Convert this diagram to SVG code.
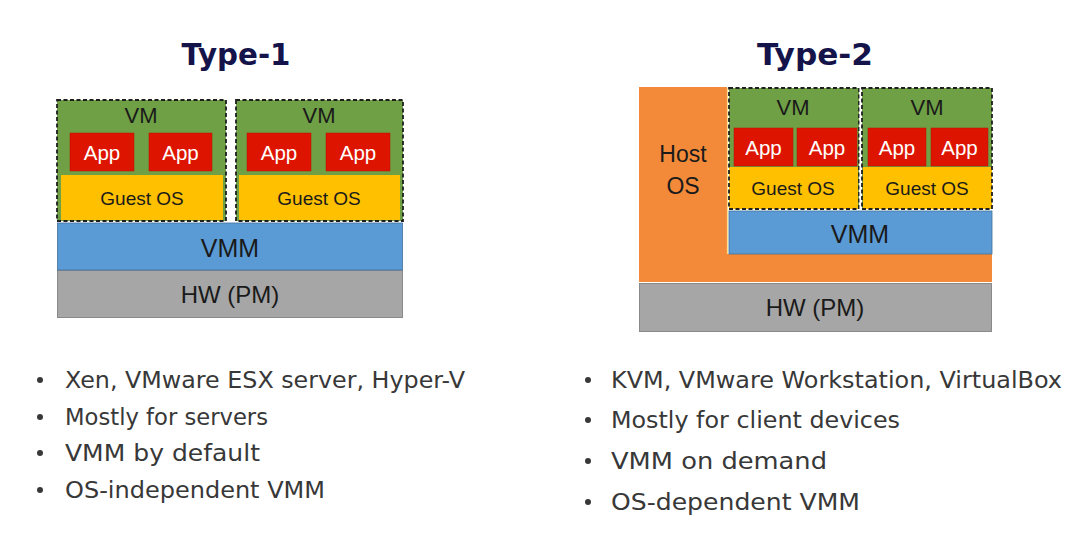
<svg xmlns="http://www.w3.org/2000/svg" width="1088" height="541" viewBox="0 0 1088 541">
<style>
.title{font-family:"DejaVu Sans",sans-serif;font-weight:bold;font-size:31px;fill:#14134a;text-anchor:middle}
.lbl{font-family:"Liberation Sans",Arial,sans-serif;text-anchor:middle;fill:#1a1a1a}
.vm{fill:#6fa045}
.vmb{fill:none;stroke:#1f1f1f;stroke-width:1.8;stroke-dasharray:4 2.5}
.app{fill:#dd1500;stroke:#b81000;stroke-width:0.5}
.apptxt{font-size:20.5px;fill:#ffffff}
.guest{fill:#ffc000}
.vmm{fill:#5b9bd5;stroke:#41719c;stroke-width:0.8}
.hw{fill:#a6a6a6;stroke:#8a8a8a;stroke-width:1}
.host{fill:#f28a3a}
.bul{font-family:"DejaVu Sans",sans-serif;font-size:23px;fill:#383838}
.dot{fill:#383838}
</style>
<rect width="1088" height="541" fill="#ffffff"/>

<g id="title1"><text class="title" x="236" y="65" textLength="109" lengthAdjust="spacingAndGlyphs">Type-1</text></g>
<g id="title2"><text class="title" x="815" y="65" textLength="116" lengthAdjust="spacingAndGlyphs">Type-2</text></g>

<!-- Type-1 -->
<g id="t1-hw"><rect class="hw" x="57.5" y="270.5" width="345" height="47"/><text class="lbl" x="230" y="303" font-size="24">HW (PM)</text></g>
<g id="t1-vmm"><rect class="vmm" x="57.5" y="223" width="345" height="47"/><text class="lbl" x="230" y="257" font-size="25" fill="#0f1f3a">VMM</text></g>
<g id="t1-vm1">
<rect class="vm" x="57" y="100" width="169" height="121"/>
<rect class="guest" x="61" y="175" width="162" height="45"/>
<rect class="app" x="70" y="133" width="64" height="38"/>
<rect class="app" x="149" y="133" width="63" height="38"/>
<rect class="vmb" x="57" y="100" width="169" height="121"/>
<text class="lbl" x="141" y="123" font-size="22">VM</text>
<text class="lbl apptxt" x="102" y="160">App</text>
<text class="lbl apptxt" x="180.5" y="160">App</text>
<text class="lbl" x="142" y="205" font-size="19">Guest OS</text>
</g>
<g id="t1-vm2">
<rect class="vm" x="236" y="100" width="167" height="121"/>
<rect class="guest" x="239" y="175" width="161" height="45"/>
<rect class="app" x="247" y="133" width="64" height="38"/>
<rect class="app" x="326" y="133" width="64" height="38"/>
<rect class="vmb" x="236" y="100" width="167" height="121"/>
<text class="lbl" x="319" y="123" font-size="22">VM</text>
<text class="lbl apptxt" x="279" y="160">App</text>
<text class="lbl apptxt" x="358" y="160">App</text>
<text class="lbl" x="319" y="205" font-size="19">Guest OS</text>
</g>

<!-- Type-2 -->
<g id="t2-hw"><rect class="hw" x="639.5" y="283.5" width="352" height="48"/><text class="lbl" x="815" y="316" font-size="24">HW (PM)</text></g>
<g id="t2-host">
<path class="host" d="M639 87 H727 V254 H992 V282 H639 Z"/>
<line x1="727.5" y1="88" x2="727.5" y2="254" stroke="#ffe08a" stroke-width="1.2"/>
<text class="lbl" x="683" y="162" font-size="23">Host</text>
<text class="lbl" x="683" y="194" font-size="23">OS</text>
</g>
<g id="t2-vmm"><rect class="vmm" x="729" y="211" width="263" height="43"/><text class="lbl" x="860" y="243" font-size="25" fill="#0f1f3a">VMM</text></g>
<g id="t2-vm1">
<rect class="vm" x="729" y="88" width="130" height="121"/>
<rect class="guest" x="729" y="167" width="129" height="42"/>
<rect class="app" x="734" y="128" width="59" height="38"/>
<rect class="app" x="797" y="128" width="60" height="38"/>
<rect class="vmb" x="729" y="88" width="130" height="121"/>
<text class="lbl" x="793" y="115" font-size="22">VM</text>
<text class="lbl apptxt" x="763.5" y="155">App</text>
<text class="lbl apptxt" x="827" y="155">App</text>
<text class="lbl" x="793" y="195" font-size="19">Guest OS</text>
</g>
<line x1="860.5" y1="88" x2="860.5" y2="209" stroke="#ffffff" stroke-width="2"/>
<g id="t2-vm2">
<rect class="vm" x="862" y="88" width="130" height="121"/>
<rect class="guest" x="863" y="167" width="129" height="42"/>
<rect class="app" x="868" y="128" width="58" height="38"/>
<rect class="app" x="931" y="128" width="57" height="38"/>
<rect class="vmb" x="862" y="88" width="130" height="121"/>
<text class="lbl" x="927" y="115" font-size="22">VM</text>
<text class="lbl apptxt" x="897" y="155">App</text>
<text class="lbl apptxt" x="959.5" y="155">App</text>
<text class="lbl" x="927" y="195" font-size="19">Guest OS</text>
</g>

<!-- Bullets left -->
<g id="list1">
<circle class="dot" cx="40" cy="380" r="3"/>
<text class="bul" x="65" y="388" textLength="400" lengthAdjust="spacingAndGlyphs">Xen, VMware ESX server, Hyper-V</text>
<circle class="dot" cx="40" cy="417" r="3"/>
<text class="bul" x="65" y="425" textLength="203" lengthAdjust="spacingAndGlyphs">Mostly for servers</text>
<circle class="dot" cx="40" cy="453" r="3"/>
<text class="bul" x="65" y="461" textLength="195" lengthAdjust="spacingAndGlyphs">VMM by default</text>
<circle class="dot" cx="40" cy="490" r="3"/>
<text class="bul" x="65" y="498" textLength="260" lengthAdjust="spacingAndGlyphs">OS-independent VMM</text>
</g>
<!-- Bullets right -->
<g id="list2">
<circle class="dot" cx="588" cy="380" r="3"/>
<text class="bul" x="611" y="388" textLength="451" lengthAdjust="spacingAndGlyphs">KVM, VMware Workstation, VirtualBox</text>
<circle class="dot" cx="588" cy="420" r="3"/>
<text class="bul" x="611" y="428" textLength="289" lengthAdjust="spacingAndGlyphs">Mostly for client devices</text>
<circle class="dot" cx="588" cy="461" r="3"/>
<text class="bul" x="611" y="469" textLength="216" lengthAdjust="spacingAndGlyphs">VMM on demand</text>
<circle class="dot" cx="588" cy="502" r="3"/>
<text class="bul" x="611" y="510" textLength="249" lengthAdjust="spacingAndGlyphs">OS-dependent VMM</text>
</g>
<g id="connectors"></g>
</svg>
